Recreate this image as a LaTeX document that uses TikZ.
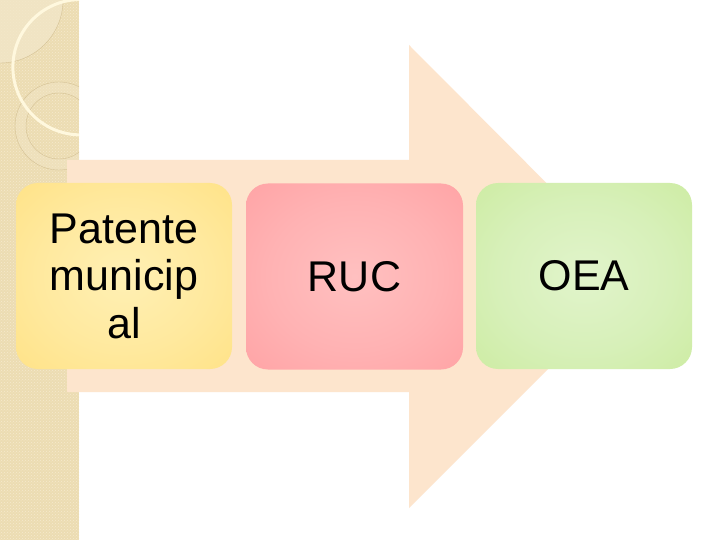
\documentclass[tikz,border=0pt]{standalone}
\usepackage{fontspec}
\setmainfont{Liberation Sans}
\usetikzlibrary{patterns}
\definecolor{stripbg}{RGB}{236,220,178}
\definecolor{stripdot}{RGB}{245,234,206}
\definecolor{stripsq}{RGB}{242,230,200}
\definecolor{stripline}{RGB}{212,193,148}
\definecolor{creamarc}{RGB}{255,248,222}
\definecolor{arrowc}{RGB}{253,229,205}
\definecolor{yA}{RGB}{255,240,180}
\definecolor{yB}{RGB}{255,233,158}
\definecolor{yC}{RGB}{255,225,130}
\definecolor{yD}{RGB}{255,221,120}
\definecolor{rA}{RGB}{255,192,192}
\definecolor{rB}{RGB}{255,178,179}
\definecolor{rC}{RGB}{255,160,162}
\definecolor{rD}{RGB}{255,150,153}
\definecolor{gA}{RGB}{225,244,203}
\definecolor{gB}{RGB}{215,240,185}
\definecolor{gC}{RGB}{203,235,158}
\definecolor{gD}{RGB}{196,232,146}
\pgfdeclareradialshading{yshade}{\pgfpoint{0bp}{0bp}}{%
  color(0bp)=(yA); color(20bp)=(yB); color(40bp)=(yC); color(52bp)=(yD); color(72bp)=(yD)}
\pgfdeclareradialshading{rshade}{\pgfpoint{0bp}{0bp}}{%
  color(0bp)=(rA); color(20bp)=(rB); color(40bp)=(rC); color(52bp)=(rD); color(72bp)=(rD)}
\pgfdeclareradialshading{gshade}{\pgfpoint{0bp}{0bp}}{%
  color(0bp)=(gA); color(20bp)=(gB); color(40bp)=(gC); color(52bp)=(gD); color(72bp)=(gD)}
\tikzset{
  stepbox/.style={rounded corners=22pt, minimum width=216pt, minimum height=186pt,
    inner sep=0pt, align=center, text=black,
    font=\fontsize{43}{47.5}\selectfont}
}
\begin{document}
\begin{tikzpicture}[x=1pt,y=-1pt]
\useasboundingbox (0,0) rectangle (720,540);
\fill[white] (0,0) rectangle (720,540);
% decorative strip
\fill[stripbg] (0,0) rectangle (79,540);
\fill[pattern=crosshatch dots, pattern color=stripdot] (0,0) rectangle (79,540);
\begin{scope}
  \clip (0,0) rectangle (79,540);
  \fill[stripsq, opacity=0.8] (0,0) circle[radius=63];
  \draw[stripline, line width=0.4pt] (0,0) circle[radius=63];
  \fill[stripsq, opacity=0.4, even odd rule] (59,126) circle[radius=44] (59,126) circle[radius=33];
  \draw[stripline, line width=0.4pt] (59,126) circle[radius=44];
  \draw[stripline, line width=0.4pt] (59,126) circle[radius=33];
  \draw[creamarc, line width=3pt] (80.6,67.2) circle[radius=67.7];
\end{scope}
% big arrow
\fill[arrowc] (67,160) -- (409,160) -- (409,45) -- (640,277) -- (409,508) -- (409,392) -- (67,392) -- cycle;
% boxes
\node[stepbox, shading=yshade] (pat) at (124,276) {Patente\\municip\\al};
\node[stepbox, shading=rshade, minimum width=217pt] (ruc) at (354.5,276.5) {RUC};
\node[stepbox, shading=gshade] (oea) at (584,276) {OEA};
\end{tikzpicture}
\end{document}
